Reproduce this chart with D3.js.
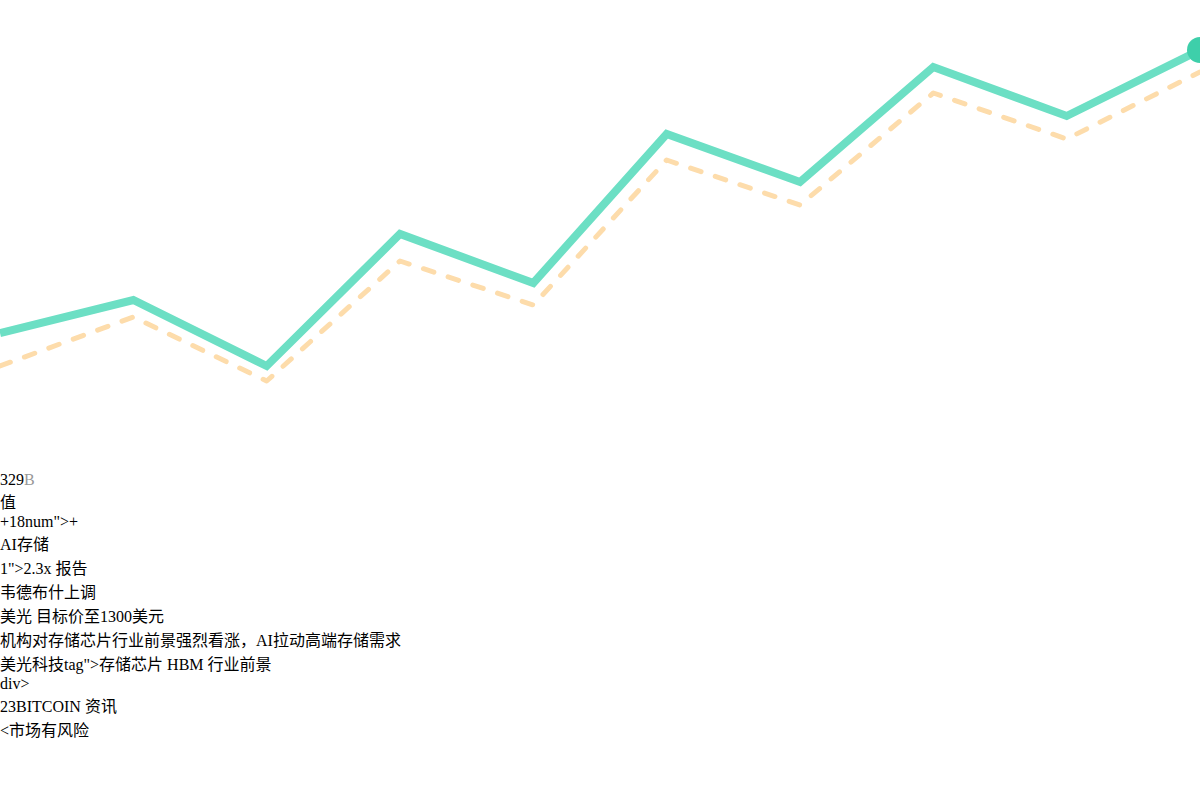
<!DOCTYPE html>
<html>
<head>
<meta charset="utf-8">
<script src="https://cdn.jsdelivr.net/npm/d3@7"></script>
<style>
  html, body { margin: 0; padding: 0; background: #fff; }
  body { font-family: "Liberation Serif", "Noto Sans CJK SC", serif; font-size: 16px; color: #000; }
  #chart { display: block; }
  .dim { color: #999; }
</style>
</head>
<body>
<svg id="chart"></svg>
<div id="notes"></div>
<script>
// data
const days = ["1", "2", "3", "4", "5", "6", "7", "8", "9", "10"];
const priceSeries = [16.75, 25, 8.5, 41.5, 29.25, 66.5, 54.5, 83.25, 71, 87.5];
const baseSeries = [8.5, 20.75, 4.75, 34.75, 23.75, 60, 48.75, 76.75, 65.25, 82];

const headValue = "329";
const headUnit = "B";
const noteLines = [
    "值",
    "+18num\">+",
    "AI存储",
    "1\">2.3x 报告",
    "韦德布什上调",
    "美光 目标价至1300美元",
    "机构对存储芯片行业前景强烈看涨，AI拉动高端存储需求",
    "美光科技tag\">存储芯片 HBM 行业前景",
    "div>",
    "23BITCOIN 资讯",
    "<市场有风险"
];

const width = 1200;
const height = 471;

const svg = d3.select('#chart')
    .attr('width', width)
    .attr('height', height);

const x = d3.scalePoint(days, [0, width]);
const y = d3.scaleLinear([0, 100], [400, 0]);

const line = d3.line()
    .x((d, i) => x(days[i]))
    .y(d => y(d));

// dashed reference line sits under the main one
svg.append('path')
    .datum(baseSeries)
    .attr('fill', 'none')
    .attr('stroke', '#fddcab')
    .attr('stroke-width', 5)
    .attr('stroke-linecap', 'round')
    .attr('stroke-linejoin', 'round')
    .attr('stroke-dasharray', '11,15')
    .attr('d', line);

svg.append('path')
    .datum(priceSeries)
    .attr('fill', 'none')
    .attr('stroke', '#6cdfc4')
    .attr('stroke-width', 8)
    .attr('stroke-linejoin', 'miter')
    .attr('d', line);

const last = priceSeries.length - 1;
svg.append('circle')
    .attr('cx', x(days[last]))
    .attr('cy', y(priceSeries[last]))
    .attr('r', 13)
    .attr('fill', '#3ecfaa');

// text block under the chart
const notes = d3.select('#notes');
const head = notes.append('div');
head.append('span').text(headValue);
head.append('span').attr('class', 'dim').text(headUnit);

notes.selectAll('div.line')
    .data(noteLines)
    .join('div')
    .attr('class', 'line')
    .text(d => d);
</script>
</body>
</html>
